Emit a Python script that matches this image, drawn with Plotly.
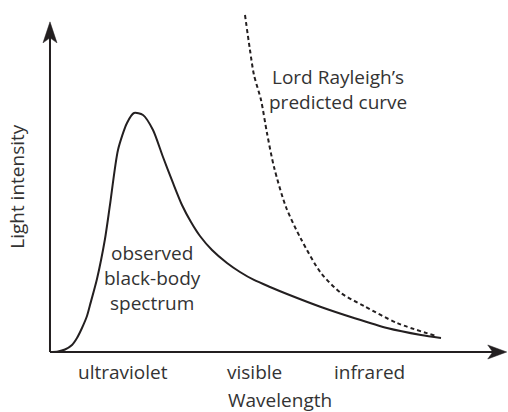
import plotly.graph_objects as go

# Observed black-body spectrum (wavelength, intensity) in arbitrary units
bb_wavelength = [0.0, 0.178, 0.333, 0.489, 0.6, 0.711, 0.822, 0.889, 1.044, 1.222, 1.333,
                 1.511, 1.711, 1.867, 2.067, 2.289, 2.511, 2.733, 2.933, 3.133, 3.333,
                 3.6, 3.933, 4.222, 4.533, 4.889, 5.267, 6.022, 6.756, 7.489, 8.244, 8.689]
bb_intensity = [0.0, 0.015, 0.074, 0.206, 0.412, 0.706, 1.059, 1.382, 2.147, 3.324, 4.324,
                5.941, 6.735, 7.029, 6.971, 6.529, 5.735, 4.971, 4.324, 3.824, 3.412,
                3.0, 2.618, 2.353, 2.118, 1.912, 1.706, 1.324, 1.0, 0.706, 0.5, 0.412]

# Lord Rayleigh's predicted curve
rj_wavelength = [4.333, 4.444, 4.533, 4.689, 4.822, 4.978, 5.244, 5.578, 6.022, 6.467,
                 6.978, 7.711, 8.578]
rj_intensity = [9.912, 8.882, 8.147, 7.412, 6.441, 5.441, 4.265, 3.324, 2.324, 1.735,
                1.353, 0.853, 0.471]

# Region labels along the wavelength axis
region_labels = ["ultraviolet", "visible", "infrared"]
region_positions = [1.622, 4.544, 7.111]

ink = "#231f20"
text_col = "#333333"
font_family = "Open Sans, Noto Sans, DejaVu Sans, sans-serif"
fs = 19

fig = go.Figure()
fig.add_trace(go.Scatter(x=bb_wavelength, y=bb_intensity, mode="lines",
                         line=dict(color=ink, width=2, shape="spline", smoothing=0.7),
                         hoverinfo="skip", showlegend=False))
fig.add_trace(go.Scatter(x=rj_wavelength, y=rj_intensity, mode="lines",
                         line=dict(color=ink, width=2, shape="spline", smoothing=0.8,
                                   dash="4px,3px"),
                         hoverinfo="skip", showlegend=False))

annotations = []
for lab, pos in zip(region_labels, region_positions):
    annotations.append(dict(x=pos, y=-0.588, text=lab, showarrow=False,
                            xanchor="center", yanchor="middle"))
annotations.append(dict(x=5.111, y=-1.40, text="Wavelength", showarrow=False,
                        xanchor="center", yanchor="middle", borderpad=0))
annotations.append(dict(x=-0.74, y=4.88, text="Light intensity", showarrow=False,
                        textangle=-90, xanchor="center", yanchor="middle"))
for txt, yy in [("Lord Rayleigh’s", 8.088), ("predicted curve", 7.353)]:
    annotations.append(dict(x=6.4, y=yy, text=txt, showarrow=False,
                            xanchor="center", yanchor="middle"))
for txt, yy in [("observed", 2.912), ("black-body", 2.176), ("spectrum", 1.441)]:
    annotations.append(dict(x=2.267, y=yy, text=txt, showarrow=False,
                            xanchor="center", yanchor="middle"))

x_tip = 10.15
y_tip = 9.71
shapes = [
    dict(type="line", xref="x", yref="y", x0=0, y0=0, x1=x_tip - 0.3, y1=0,
         line=dict(color=ink, width=2)),
    dict(type="line", xref="x", yref="y", x0=0, y0=0, x1=0, y1=y_tip - 0.4,
         line=dict(color=ink, width=2)),
    dict(type="path", xref="x", yref="y", xsizemode="pixel", ysizemode="pixel",
         xanchor=x_tip, yanchor=0,
         path="M0,0 L-19,7 L-14,0 L-19,-7 Z", fillcolor=ink, line=dict(color=ink, width=0.5)),
    dict(type="path", xref="x", yref="y", xsizemode="pixel", ysizemode="pixel",
         xanchor=0, yanchor=y_tip,
         path="M0,0 L-7,-21 L0,-16 L7,-21 Z", fillcolor=ink, line=dict(color=ink, width=0.5)),
]

fig.update_layout(
    width=508, height=412,
    margin=dict(l=0, r=0, t=0, b=0),
    paper_bgcolor="white", plot_bgcolor="white",
    font=dict(family=font_family, size=fs, color=text_col),
    xaxis=dict(range=[-1.111, 10.178], visible=False, fixedrange=True),
    yaxis=dict(range=[-1.765, 10.353], visible=False, fixedrange=True),
    annotations=annotations,
    shapes=shapes,
    showlegend=False,
)

fig.write_html("out.html", config={"displayModeBar": False},
               post_script="document.body.style.margin='0px';document.body.style.padding='0px';")
